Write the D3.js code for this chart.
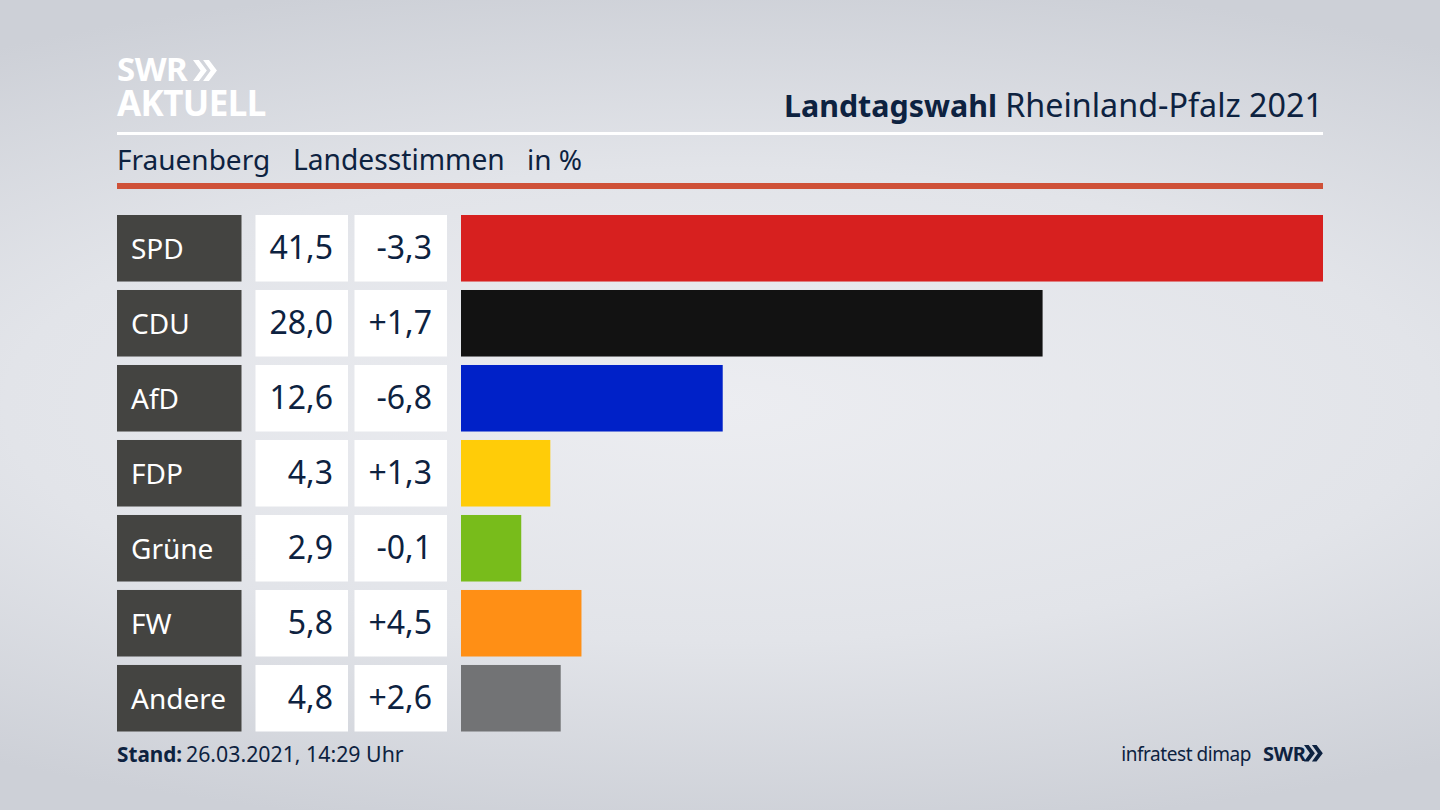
<!DOCTYPE html>
<html><head><meta charset="utf-8">
<script src="https://cdn.jsdelivr.net/npm/d3@7"></script>
<style>
html,body{margin:0;padding:0;background:#d8dae0;overflow:hidden}
svg{display:block}
text{font-family:"Noto Sans",sans-serif}
</style></head><body>
<svg id="c" width="1440" height="810"></svg>
<script>
const parties=["SPD","CDU","AfD","FDP","Grüne","FW","Andere"];
const shares=[41.5,28.0,12.6,4.3,2.9,5.8,4.8];
const changes=["-3,3","+1,7","-6,8","+1,3","-0,1","+4,5","+2,6"];
const shareLabels=["41,5","28,0","12,6","4,3","2,9","5,8","4,8"];
const colors=["#d7201f","#121212","#0021c8","#ffcc08","#78bc1b","#ff8f15","#727375"];

const ink="#0d2240";
const svg=d3.select("#c");
const defs=svg.append("defs");
const g=defs.append("radialGradient").attr("id","bg").attr("gradientUnits","userSpaceOnUse")
  .attr("cx",0).attr("cy",0).attr("r",1)
  .attr("gradientTransform","translate(720 405) scale(1300 430)");
g.append("stop").attr("offset",0).attr("stop-color","#ecedf1");
g.append("stop").attr("offset",0.55).attr("stop-color","#e2e4e9");
g.append("stop").attr("offset",1).attr("stop-color","#cdd0d7");
svg.append("rect").attr("width",1440).attr("height",810).attr("fill","url(#bg)");

// header
svg.append("rect").attr("x",117).attr("y",132).attr("width",1206).attr("height",3).attr("fill","#fff");
svg.append("rect").attr("x",117).attr("y",183).attr("width",1206).attr("height",6).attr("fill","#cf5138");

const chev=(x,y,s,col)=>{
  const p=d3.path();
  [0,0.48].forEach(o=>{
    const dx=x+o*s;
    p.moveTo(dx,y);p.lineTo(dx+0.28*s,y);p.lineTo(dx+0.66*s,y+0.5*s);
    p.lineTo(dx+0.28*s,y+s);p.lineTo(dx,y+s);p.lineTo(dx+0.36*s,y+0.5*s);p.closePath();
  });
  svg.append("path").attr("d",p.toString()).attr("fill",col);
};
const T=(x,y,t,size,o={})=>svg.append("text").attr("x",x).attr("y",y).text(t)
  .attr("font-size",size).attr("fill",o.fill||ink).attr("font-weight",o.w||400)
  .attr("text-anchor",o.a||"start").attr("letter-spacing",o.ls||null);

T(117,81,"SWR",33,{fill:"#fff",w:700,ls:"-0.5"});
chev(193,60,21,"#fff");
T(117,116,"AKTUELL",35,{fill:"#fff",w:700,ls:"-0.6"});

T(997,117,"Landtagswahl",30.4,{a:"end",w:700});
T(1323,117,"Rheinland-Pfalz 2021",32.3,{a:"end"});

T(117,170,"Frauenberg",28);
T(293,170,"Landesstimmen",28.2);
T(527,170,"in %",28);

// rows
const y=d3.scaleBand().domain(parties).range([215,731.5]).paddingInner(0.113).paddingOuter(0);
const x=d3.scaleLinear().domain([0,41.5]).range([461,1323]);
const rows=svg.selectAll("g.row").data(parties).join("g").attr("class","row");
rows.append("rect").attr("x",117).attr("y",d=>y(d)).attr("width",124.5).attr("height",y.bandwidth()).attr("fill","#444441");
rows.append("rect").attr("x",255.5).attr("y",d=>y(d)).attr("width",92.5).attr("height",y.bandwidth()).attr("fill","#fff");
rows.append("rect").attr("x",354.5).attr("y",d=>y(d)).attr("width",92.5).attr("height",y.bandwidth()).attr("fill","#fff");
rows.append("rect").attr("x",x(0)).attr("y",d=>y(d)).attr("height",y.bandwidth())
  .attr("width",(d,i)=>x(shares[i])-x(0)).attr("fill",(d,i)=>colors[i]);
const ty=d=>y(d)+y.bandwidth()/2+11;
rows.append("text").attr("x",131).attr("y",d=>ty(d)-0.5).attr("font-size",28).attr("fill","#fff").text(d=>d);
rows.append("text").attr("x",333).attr("y",ty).attr("font-size",32).attr("fill",ink).attr("text-anchor","end").text((d,i)=>shareLabels[i]);
rows.append("text").attr("x",432).attr("y",ty).attr("font-size",32).attr("fill",ink).attr("text-anchor","end").text((d,i)=>changes[i]);

// footer
T(117,762,"Stand:",20.7,{w:700});
T(186,762,"26.03.2021, 14:29 Uhr",21.3);
T(1251,761,"infratest dimap",19,{a:"end",ls:"-0.45"});
T(1263,761,"SWR",20,{w:700,ls:"-0.3"});
chev(1304,745,16.5,ink);
</script>
</body></html>
